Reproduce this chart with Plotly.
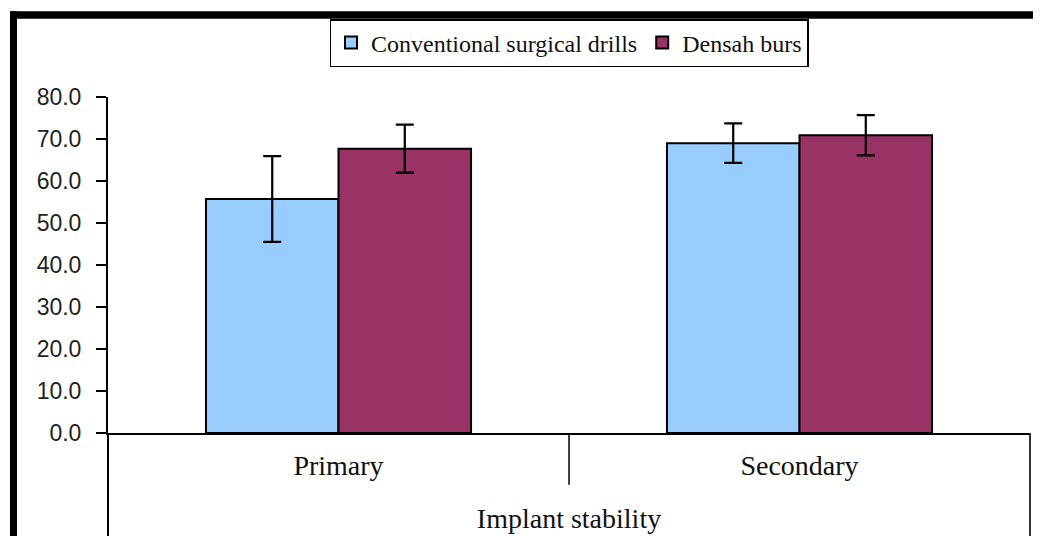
import plotly.graph_objects as go

categories = ["Primary", "Secondary"]
series_names = ["Conventional surgical drills", "Densah burs"]
conventional_mean = [55.7, 69.0]
conventional_sd = [10.2, 4.7]
densah_mean = [67.7, 70.9]
densah_sd = [5.7, 4.8]
y_ticks = [0, 10, 20, 30, 40, 50, 60, 70, 80]
x_title = "Implant stability"

colors = ["#99CCFF", "#993366"]

# the page body adds an 8px offset; work in screenshot pixels and shift
OFF = 8
W, H = 1041, 536
ML = 108 - OFF
MT = 96 - OFF
MR = W - (1030 - OFF)
MB = H - (433 - OFF)
PW = W - ML - MR
PH = H - MT - MB


def px_x(p):
    return (p - OFF - ML) / PW


def px_y(p):
    return 1 + (MT - (p - OFF)) / PH


fig = go.Figure()
for name, mean, sd, col in [
    (series_names[0], conventional_mean, conventional_sd, colors[0]),
    (series_names[1], densah_mean, densah_sd, colors[1]),
]:
    fig.add_trace(go.Bar(
        x=categories, y=mean, name=name,
        marker=dict(color=col, line=dict(color="black", width=2)),
        error_y=dict(type="data", array=sd, visible=True, color="black",
                     thickness=2.2, width=9),
    ))

serif = "Liberation Serif"
sans = "Liberation Sans"

shapes = [
    dict(type="line", xref="paper", yref="paper", x0=0, x1=0, y0=0, y1=-0.4,
         line=dict(color="black", width=2)),
    dict(type="line", xref="paper", yref="paper", x0=1, x1=1, y0=0, y1=-0.4,
         line=dict(color="#333", width=2)),
    dict(type="line", xref="x", yref="paper", x0=0.5, x1=0.5, y0=0, y1=px_y(485),
         line=dict(color="black", width=1.5)),
    dict(type="rect", xref="paper", yref="paper", x0=px_x(10), x1=px_x(1080),
         y0=px_y(17.5), y1=px_y(10), fillcolor="black", line=dict(width=0)),
    dict(type="rect", xref="paper", yref="paper", x0=px_x(10), x1=px_x(17),
         y0=px_y(580), y1=px_y(10), fillcolor="black", line=dict(width=0)),
]

fig.update_layout(
    width=W, height=H,
    margin=dict(l=ML, r=MR, t=MT, b=MB, pad=0),
    paper_bgcolor="white", plot_bgcolor="white",
    barmode="group", bargap=0.425, bargroupgap=0,
    showlegend=True,
    legend=dict(orientation="h", x=0.5, xanchor="center", y=px_y(19), yanchor="top",
                bordercolor="black", borderwidth=1.5, bgcolor="white",
                font=dict(family=serif, size=24, color="#111"),
                itemwidth=30, tracegroupgap=0),
    xaxis=dict(type="category", showline=True, linecolor="black", linewidth=2,
               ticks="", showgrid=False, zeroline=False, ticklabelstandoff=6,
               tickfont=dict(family=serif, size=28, color="#111"),
               title=dict(text=x_title, font=dict(family=serif, size=28, color="#111"),
                          standoff=29)),
    yaxis=dict(range=[0, 80], tickvals=y_ticks, tickformat=".1f", showline=True,
               linecolor="black", linewidth=2, ticks="outside", ticklen=10,
               tickwidth=2, tickcolor="black", showgrid=False, zeroline=False,
               ticklabelstandoff=10,
               tickfont=dict(family=sans, size=23, color="#222")),
    shapes=shapes,
)

fig.write_html("out.html")
